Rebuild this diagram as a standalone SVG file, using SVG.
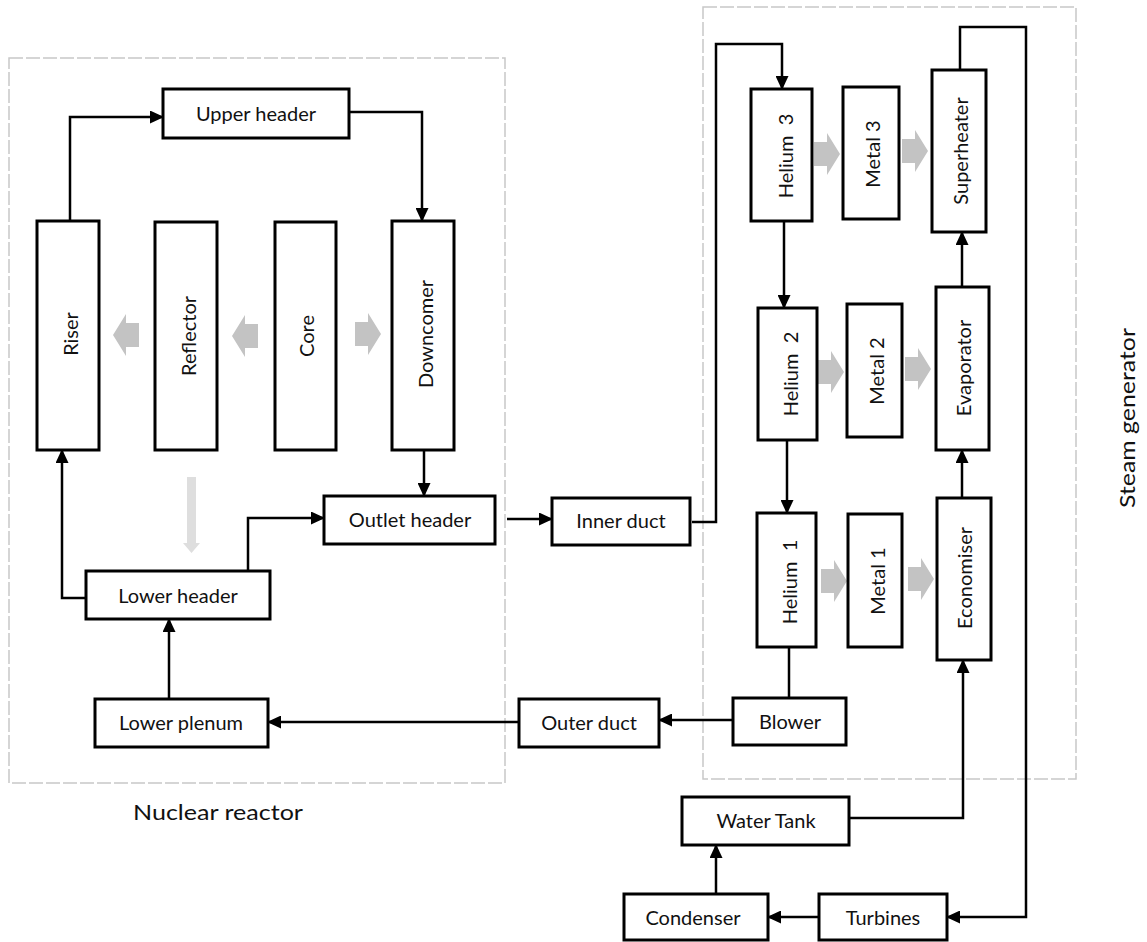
<svg xmlns="http://www.w3.org/2000/svg" width="1147" height="942" viewBox="0 0 1147 942">
  <defs>
    <style>
      .box { fill: #ffffff; stroke: #000000; stroke-width: 3; }
      .frame { fill: none; stroke: #c8c8c8; stroke-width: 1.5; stroke-dasharray: 14 3; }
      .lbl { font-family: Lato, "Open Sans", sans-serif; font-size: 20px; fill: #111111; text-anchor: middle; }
      .vlbl { font-family: Lato, "Open Sans", sans-serif; font-size: 20px; fill: #111111; text-anchor: middle; white-space: pre; }
      .glbl { font-family: Lato, "Open Sans", sans-serif; font-size: 22px; fill: #111111; }
      .wire { fill: none; stroke: #000000; stroke-width: 2.5; }
      .heat { fill: #c3c3c3; }
      .heat-light { fill: #dedede; }
    </style>
    <marker id="head" viewBox="0 0 14 13" markerWidth="14" markerHeight="13" refX="13" refY="6.5" orient="auto" markerUnits="userSpaceOnUse">
      <path d="M0,0 L14,6.5 L0,13 Z" fill="#000000"/>
    </marker>
    <!-- block arrow for heat transfer, pointing right, origin at tail centre -->
    <path id="heatArrow" d="M0,-12 H13 V-21 L26,0 L13,21 V12 H0 Z"/>
  </defs>

  <rect width="1147" height="942" fill="#ffffff"/>

  <!-- subsystem frames -->
  <g id="frames">
    <rect class="frame" x="9" y="58" width="496" height="725"/>
    <rect class="frame" x="703" y="7" width="373" height="772"/>
    <text class="glbl" x="133" y="820" textLength="170" lengthAdjust="spacingAndGlyphs">Nuclear reactor</text>
    <text class="glbl" transform="translate(1135,418) rotate(-90)" x="0" y="0" text-anchor="middle" textLength="180" lengthAdjust="spacingAndGlyphs">Steam generator</text>
  </g>

  <!-- heat flow arrows -->
  <g id="heat-flow">
    <use href="#heatArrow" class="heat" transform="translate(139,335) scale(-1,1)"/>
    <use href="#heatArrow" class="heat" transform="translate(258,336) scale(-1,1)"/>
    <use href="#heatArrow" class="heat" transform="translate(355,334)"/>
    <path class="heat-light" d="M187,477 H196 V543 H200 L191.5,553 L183,543 H187 Z"/>
    <use href="#heatArrow" class="heat" transform="translate(814,154)"/>
    <use href="#heatArrow" class="heat" transform="translate(902,151)"/>
    <use href="#heatArrow" class="heat" transform="translate(818,372)"/>
    <use href="#heatArrow" class="heat" transform="translate(905,369)"/>
    <use href="#heatArrow" class="heat" transform="translate(821,581)"/>
    <use href="#heatArrow" class="heat" transform="translate(908,579)"/>
  </g>

  <!-- connectors -->
  <g id="connectors">
    <path class="wire" d="M70,221 V117 H163" marker-end="url(#head)"/>
    <path class="wire" d="M349,112 H422 V221" marker-end="url(#head)"/>
    <path class="wire" d="M424,450 V496" marker-end="url(#head)"/>
    <path class="wire" d="M86,598 H62 V450" marker-end="url(#head)"/>
    <path class="wire" d="M248,571 V518 H324" marker-end="url(#head)"/>
    <path class="wire" d="M169,699 V619" marker-end="url(#head)"/>
    <path class="wire" d="M519,722 H268" marker-end="url(#head)"/>
    <path class="wire" d="M733,720 H659" marker-end="url(#head)"/>
    <path class="wire" d="M507,519 H552" marker-end="url(#head)"/>
    <path class="wire" d="M692,522 H716 V44 H782 V89" marker-end="url(#head)"/>
    <path class="wire" d="M784,221 V308" marker-end="url(#head)"/>
    <path class="wire" d="M787,440 V513" marker-end="url(#head)"/>
    <path class="wire" d="M789,647 V698"/>
    <path class="wire" d="M962,498 V450" marker-end="url(#head)"/>
    <path class="wire" d="M962,287 V232" marker-end="url(#head)"/>
    <path class="wire" d="M960,70 V27 H1026 V917 H947" marker-end="url(#head)"/>
    <path class="wire" d="M819,917 H768" marker-end="url(#head)"/>
    <path class="wire" d="M716,894 V845" marker-end="url(#head)"/>
    <path class="wire" d="M849,818 H963 V660" marker-end="url(#head)"/>
  </g>

  <!-- nuclear reactor components -->
  <g id="upper-header">
    <rect class="box" x="163" y="89" width="186" height="49"/>
    <text class="lbl" x="256" y="121">Upper header</text>
  </g>
  <g id="riser">
    <rect class="box" x="37" y="221" width="62" height="229"/>
    <text class="vlbl" transform="translate(71,334) rotate(-90)" y="7">Riser</text>
  </g>
  <g id="reflector">
    <rect class="box" x="155" y="222" width="62" height="228"/>
    <text class="vlbl" transform="translate(189,336) rotate(-90)" y="7">Reflector</text>
  </g>
  <g id="core">
    <rect class="box" x="275" y="222" width="61" height="228"/>
    <text class="vlbl" transform="translate(307,336) rotate(-90)" y="7">Core</text>
  </g>
  <g id="downcomer">
    <rect class="box" x="392" y="221" width="62" height="229"/>
    <text class="vlbl" transform="translate(426,334) rotate(-90)" y="7">Downcomer</text>
  </g>
  <g id="outlet-header">
    <rect class="box" x="324" y="496" width="171" height="48"/>
    <text class="lbl" x="410" y="527">Outlet header</text>
  </g>
  <g id="lower-header">
    <rect class="box" x="86" y="571" width="184" height="48"/>
    <text class="lbl" x="178" y="603">Lower header</text>
  </g>
  <g id="lower-plenum">
    <rect class="box" x="95" y="699" width="173" height="48"/>
    <text class="lbl" x="181" y="730">Lower plenum</text>
  </g>

  <!-- ducts and blower -->
  <g id="inner-duct">
    <rect class="box" x="552" y="498" width="138" height="47"/>
    <text class="lbl" x="621" y="528">Inner duct</text>
  </g>
  <g id="outer-duct">
    <rect class="box" x="519" y="699" width="140" height="48"/>
    <text class="lbl" x="589" y="730">Outer duct</text>
  </g>
  <g id="blower">
    <rect class="box" x="733" y="698" width="113" height="47"/>
    <text class="lbl" x="790" y="729">Blower</text>
  </g>

  <!-- steam generator sections -->
  <g id="helium-3">
    <rect class="box" x="751" y="89" width="61" height="132"/>
    <text class="vlbl" transform="translate(786,156) rotate(-90)" y="7" xml:space="preserve">Helium  3</text>
  </g>
  <g id="metal-3">
    <rect class="box" x="843" y="87" width="56" height="132"/>
    <text class="vlbl" transform="translate(873,154) rotate(-90)" y="7">Metal 3</text>
  </g>
  <g id="superheater">
    <rect class="box" x="932" y="70" width="54" height="162"/>
    <text class="vlbl" transform="translate(961,151) rotate(-90)" y="7">Superheater</text>
  </g>
  <g id="helium-2">
    <rect class="box" x="758" y="308" width="59" height="132"/>
    <text class="vlbl" transform="translate(791,374) rotate(-90)" y="7" xml:space="preserve">Helium  2</text>
  </g>
  <g id="metal-2">
    <rect class="box" x="847" y="304" width="55" height="133"/>
    <text class="vlbl" transform="translate(877,371) rotate(-90)" y="7">Metal 2</text>
  </g>
  <g id="evaporator">
    <rect class="box" x="936" y="287" width="53" height="163"/>
    <text class="vlbl" transform="translate(964,368) rotate(-90)" y="7">Evaporator</text>
  </g>
  <g id="helium-1">
    <rect class="box" x="757" y="513" width="59" height="134"/>
    <text class="vlbl" transform="translate(790,582) rotate(-90)" y="7" xml:space="preserve">Helium  1</text>
  </g>
  <g id="metal-1">
    <rect class="box" x="848" y="514" width="54" height="133"/>
    <text class="vlbl" transform="translate(878,581) rotate(-90)" y="7">Metal 1</text>
  </g>
  <g id="economiser">
    <rect class="box" x="937" y="498" width="54" height="162"/>
    <text class="vlbl" transform="translate(965,578) rotate(-90)" y="7">Economiser</text>
  </g>

  <!-- water/steam loop -->
  <g id="water-tank">
    <rect class="box" x="682" y="797" width="167" height="48"/>
    <text class="lbl" x="766" y="828">Water Tank</text>
  </g>
  <g id="condenser">
    <rect class="box" x="624" y="894" width="144" height="46"/>
    <text class="lbl" x="693" y="925">Condenser</text>
  </g>
  <g id="turbines">
    <rect class="box" x="819" y="894" width="128" height="46"/>
    <text class="lbl" x="883" y="925">Turbines</text>
  </g>
</svg>
